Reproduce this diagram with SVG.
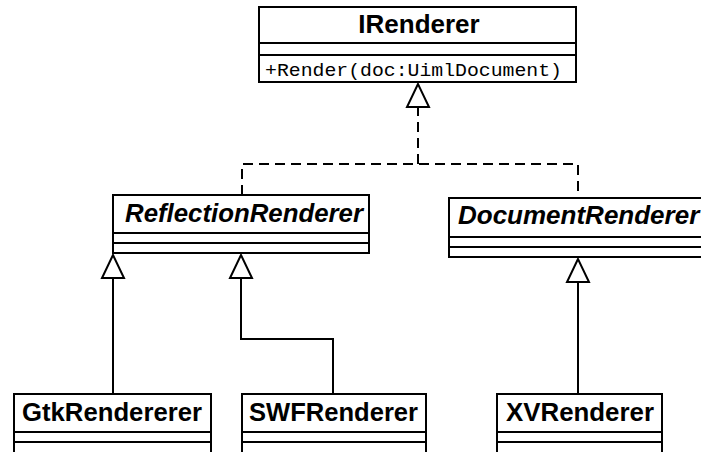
<svg xmlns="http://www.w3.org/2000/svg" width="701" height="452" viewBox="0 0 701 452">
  <style>
    .box { fill: #ffffff; stroke: #000000; stroke-width: 2; }
    .sep { stroke: #000000; stroke-width: 2; }
    .name { font-family: "Liberation Sans", Arial, sans-serif; font-weight: bold; font-size: 26px; fill: #000000; }
    .abstract { font-style: italic; }
    .op { font-family: "Liberation Mono", "Courier New", monospace; font-size: 19px; fill: #000000; }
    .line { fill: none; stroke: #000000; stroke-width: 2; }
    .dash { stroke-dasharray: 10 6; }
    .head { fill: #ffffff; stroke: #000000; stroke-width: 2; stroke-linejoin: miter; }
  </style>
  <rect width="701" height="452" fill="#ffffff"/>

  <!-- connectors: realization (dashed) and generalization (solid) with hollow triangles -->
  <g id="connectors">
    <path class="line dash" d="M242,195 V164 H578 V198"/>
    <path class="line dash" d="M418,164 V108"/>
    <polygon class="head" points="418,84 407,107 429,107"/>

    <path class="line" d="M113,278 V394"/>
    <polygon class="head" points="113,255 102,278 124,278"/>

    <path class="line" d="M241,278 V339 H333 V394"/>
    <polygon class="head" points="241,255 230,278 252,278"/>

    <path class="line" d="M578,282 V394"/>
    <polygon class="head" points="578,259 567,282 589,282"/>
  </g>

  <g id="IRenderer">
    <rect class="box" x="259" y="7" width="317" height="75"/>
    <line class="sep" x1="259" y1="43" x2="576" y2="43"/>
    <line class="sep" x1="259" y1="55" x2="576" y2="55"/>
    <text class="name" x="419" y="33" text-anchor="middle">IRenderer</text>
    <text class="op" x="265" y="76" textLength="297" lengthAdjust="spacingAndGlyphs">+Render(doc:UimlDocument)</text>
  </g>

  <g id="ReflectionRenderer">
    <rect class="box" x="113" y="195" width="256" height="58"/>
    <line class="sep" x1="113" y1="233" x2="369" y2="233"/>
    <line class="sep" x1="113" y1="243" x2="369" y2="243"/>
    <text class="name abstract" x="125" y="222" textLength="238" lengthAdjust="spacingAndGlyphs">ReflectionRenderer</text>
  </g>

  <g id="DocumentRenderer">
    <rect class="box" x="449" y="198" width="280" height="59"/>
    <line class="sep" x1="449" y1="237" x2="729" y2="237"/>
    <line class="sep" x1="449" y1="247" x2="729" y2="247"/>
    <text class="name abstract" x="458" y="224">DocumentRenderer</text>
  </g>

  <g id="GtkRendererer">
    <rect class="box" x="14" y="394" width="197" height="80"/>
    <line class="sep" x1="14" y1="432" x2="211" y2="432"/>
    <line class="sep" x1="14" y1="442" x2="211" y2="442"/>
    <text class="name" x="22" y="421" textLength="180" lengthAdjust="spacingAndGlyphs">GtkRendererer</text>
  </g>

  <g id="SWFRenderer">
    <rect class="box" x="242" y="394" width="184" height="80"/>
    <line class="sep" x1="242" y1="432" x2="426" y2="432"/>
    <line class="sep" x1="242" y1="442" x2="426" y2="442"/>
    <text class="name" x="249" y="421" textLength="169" lengthAdjust="spacingAndGlyphs">SWFRenderer</text>
  </g>

  <g id="XVRenderer">
    <rect class="box" x="497" y="394" width="165" height="80"/>
    <line class="sep" x1="497" y1="432" x2="662" y2="432"/>
    <line class="sep" x1="497" y1="442" x2="662" y2="442"/>
    <text class="name" x="506" y="421" textLength="148" lengthAdjust="spacingAndGlyphs">XVRenderer</text>
  </g>
</svg>
